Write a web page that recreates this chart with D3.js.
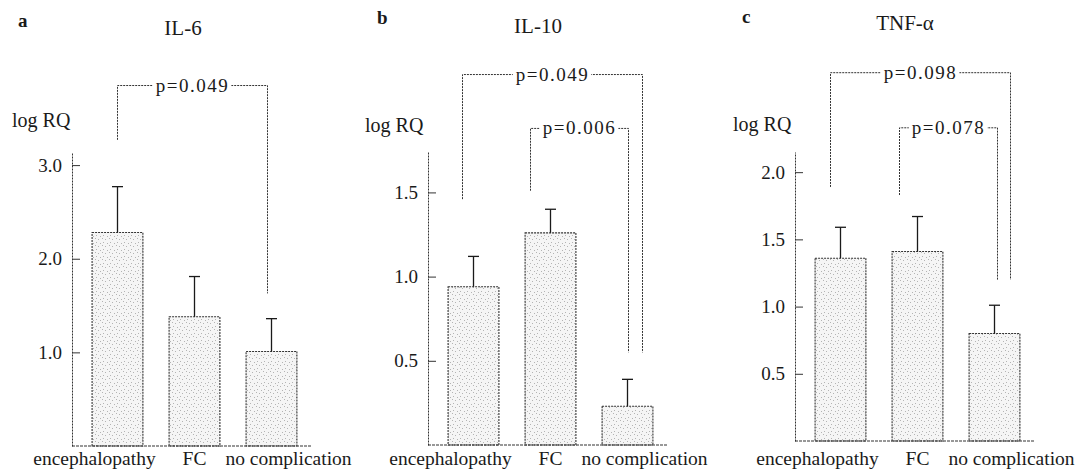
<!DOCTYPE html>
<html>
<head>
<meta charset="utf-8">
<script src="https://cdn.jsdelivr.net/npm/d3@7"></script>
<style>
  body { margin: 0; background: #fff; }
  svg { display: block; font-family: "Liberation Serif", "Times New Roman", serif; }
</style>
</head>
<body>
<div id="chart"></div>
<script>
// data
var categories = ["encephalopathy", "FC", "no complication"];
var letters = ["a", "b", "c"];
var titles = ["IL-6", "IL-10", "TNF-α"];

var il6Mean = [2.28, 1.38, 1.01];
var il6Err = [0.49, 0.43, 0.35];
var il10Mean = [0.94, 1.26, 0.23];
var il10Err = [0.18, 0.14, 0.16];
var tnfMean = [1.36, 1.41, 0.80];
var tnfErr = [0.23, 0.26, 0.21];

var il6Ticks = [1, 2, 3];
var il10Ticks = [0.5, 1, 1.5];
var tnfTicks = [0.5, 1, 1.5, 2];

var il6Max = 3.14, il10Max = 1.74, tnfMax = 2.15;

// significance brackets (heights in log RQ units)
var il6Brackets = [{ from: 0, to: 2, p: "0.049", top: 3.85, endFrom: 3.27, endTo: 1.63 }];
var il10Brackets = [
    { from: 0, to: 2, p: "0.049", top: 2.20, endFrom: 1.46, endTo: 0.55 },
    { from: 1, to: 2, p: "0.006", top: 1.88, endFrom: 1.51, endTo: 0.55 }
];
var tnfBrackets = [
    { from: 0, to: 2, p: "0.098", top: 2.74, endFrom: 1.89, endTo: 1.20 },
    { from: 1, to: 2, p: "0.078", top: 2.33, endFrom: 1.83, endTo: 1.20 }
];

var W = 1078, H = 476;
var svg = d3.select("#chart").append("svg").attr("width", W).attr("height", H);

// stipple fill
var defs = svg.append("defs");
var pat = defs.append("pattern").attr("id", "stip").attr("patternUnits", "userSpaceOnUse")
    .attr("width", 7).attr("height", 7);
pat.append("rect").attr("width", 7).attr("height", 7).attr("fill", "#f5f5f5");
[[0, 1], [4, 0], [5, 4], [2, 5]].forEach(function (p) {
    pat.append("rect").attr("x", p[0]).attr("y", p[1]).attr("width", 1).attr("height", 1).attr("fill", "#b4b4b4");
});

var panels = [
    { mean: il6Mean, err: il6Err, ticks: il6Ticks, max: il6Max, brackets: il6Brackets,
      axisX: 72, base: 446, top: 152, letterX: 18, letterY: 27, titleX: 183, titleY: 35, logX: 12, logY: 127,
      bdx: [[0, -4]] },
    { mean: il10Mean, err: il10Err, ticks: il10Ticks, max: il10Max, brackets: il10Brackets,
      axisX: 428, base: 445, top: 152, letterX: 377, letterY: 24, titleX: 538, titleY: 33, logX: 365, logY: 132,
      bdx: [[-11, 15], [-20, 1]] },
    { mean: tnfMean, err: tnfErr, ticks: tnfTicks, max: tnfMax, brackets: tnfBrackets,
      axisX: 795, base: 441, top: 152, letterX: 742, letterY: 23, titleX: 905, titleY: 30, logX: 733, logY: 131,
      bdx: [[-10, 16], [-18, 3]] }
];

var labelShift = [-23, 0, 17];
var ink = "#1a1a1a";

panels.forEach(function (pn, k) {
    var g = svg.append("g");

    var y = d3.scaleLinear().domain([0, pn.max]).range([pn.base, pn.top]);
    var x = d3.scaleBand().domain(categories)
        .range([pn.axisX + 7, pn.axisX + 7 + 231])
        .paddingInner(0.34).paddingOuter(0.17);

    // headings
    g.append("text").attr("x", pn.letterX).attr("y", pn.letterY)
        .style("font-weight", "bold").style("font-size", "19px").attr("fill", ink).text(letters[k]);
    g.append("text").attr("x", pn.titleX).attr("y", pn.titleY).attr("text-anchor", "middle")
        .style("font-size", "21px").attr("fill", ink).text(titles[k]);
    g.append("text").attr("x", pn.logX).attr("y", pn.logY)
        .style("font-size", "20px").attr("fill", ink).text("log RQ");

    // bars
    g.selectAll(".bar").data(pn.mean).enter().append("rect")
        .attr("class", "bar")
        .attr("x", function (d, i) { return x(categories[i]); })
        .attr("y", function (d) { return y(d); })
        .attr("width", x.bandwidth())
        .attr("height", function (d) { return y(0) - y(d); })
        .attr("fill", "url(#stip)")
        .attr("stroke", "#333")
        .attr("stroke-width", 1.1)
        .attr("stroke-dasharray", "2,1");

    // error bars (upper only)
    var eb = g.selectAll(".err").data(pn.mean).enter().append("g").attr("class", "err");
    eb.append("line")
        .attr("x1", function (d, i) { return x(categories[i]) + x.bandwidth() / 2; })
        .attr("x2", function (d, i) { return x(categories[i]) + x.bandwidth() / 2; })
        .attr("y1", function (d) { return y(d); })
        .attr("y2", function (d, i) { return y(d + pn.err[i]); })
        .attr("stroke", ink).attr("stroke-width", 1.3);
    eb.append("line")
        .attr("x1", function (d, i) { return x(categories[i]) + x.bandwidth() / 2 - 5.5; })
        .attr("x2", function (d, i) { return x(categories[i]) + x.bandwidth() / 2 + 5.5; })
        .attr("y1", function (d, i) { return y(d + pn.err[i]); })
        .attr("y2", function (d, i) { return y(d + pn.err[i]); })
        .attr("stroke", ink).attr("stroke-width", 1.3);

    // y axis
    var ax = g.append("g").attr("transform", "translate(" + pn.axisX + ",0)")
        .call(d3.axisLeft(y).tickValues(pn.ticks).tickFormat(d3.format(".1f"))
            .tickSizeInner(-8).tickSizeOuter(0).tickPadding(10));
    ax.select(".domain").attr("stroke", "#333").attr("stroke-dasharray", "2,1");
    ax.selectAll(".tick line").attr("stroke", "#333");
    ax.selectAll(".tick text").attr("fill", ink).style("font-size", "19px")
        .style("font-family", "'Liberation Serif', serif");

    // x axis baseline
    g.append("line").attr("x1", pn.axisX).attr("x2", pn.axisX + 239)
        .attr("y1", y(0)).attr("y2", y(0))
        .attr("stroke", "#333").attr("stroke-width", 1.2).attr("stroke-dasharray", "3,1");

    // category labels
    g.selectAll(".cat").data(categories).enter().append("text")
        .attr("class", "cat")
        .attr("x", function (d, i) { return x(d) + x.bandwidth() / 2 + labelShift[i]; })
        .attr("y", 465)
        .attr("text-anchor", "middle")
        .style("font-size", "19.5px")
        .attr("fill", ink)
        .text(function (d) { return d; });

    // significance brackets
    pn.brackets.forEach(function (b, j) {
        var x1 = x(categories[b.from]) + x.bandwidth() / 2 + pn.bdx[j][0];
        var x2 = x(categories[b.to]) + x.bandwidth() / 2 + pn.bdx[j][1];
        var yt = y(b.top);
        var bg = g.append("g");
        bg.append("path")
            .attr("d", "M" + x1 + "," + y(b.endFrom) + "V" + yt + "H" + x2 + "V" + y(b.endTo))
            .attr("fill", "none").attr("stroke", "#333").attr("stroke-width", 1)
            .attr("stroke-dasharray", "2,1");
        var t = bg.append("text")
            .attr("x", (x1 + x2) / 2).attr("y", yt + 6)
            .attr("text-anchor", "middle")
            .style("font-size", "19px")
            .style("letter-spacing", "1.5px")
            .attr("fill", ink)
            .text("p=" + b.p);
        var bb = t.node().getBBox();
        bg.insert("rect", "text")
            .attr("x", bb.x - 3).attr("y", bb.y + 2)
            .attr("width", bb.width + 5).attr("height", bb.height - 4)
            .attr("fill", "#fff");
    });
});
</script>
</body>
</html>
